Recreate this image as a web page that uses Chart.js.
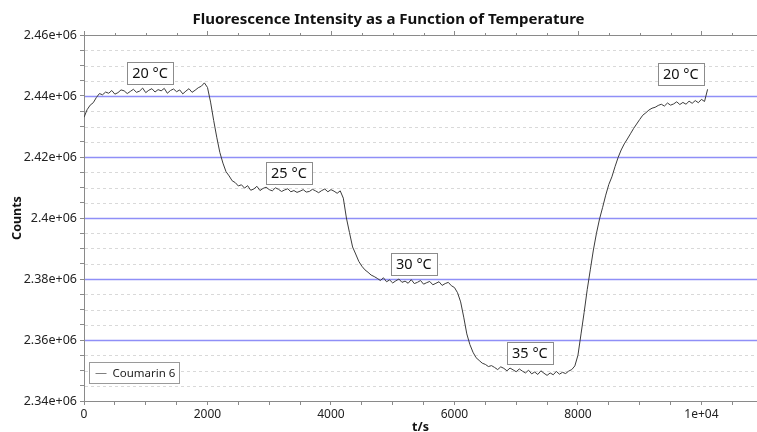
<!DOCTYPE html>
<html>
<head>
<meta charset="utf-8">
<script src="https://cdn.jsdelivr.net/npm/chart.js@4/dist/chart.umd.min.js"></script>
<style>
  html, body { margin: 0; padding: 0; background: #ffffff; }
  #wrap { width: 757px; height: 432px; position: relative; }
</style>
</head>
<body>
<div id="wrap"><canvas id="c" width="757" height="432"></canvas></div>
<script>
// ---- data ----
const seriesName = 'Coumarin 6';
const chartTitle = 'Fluorescence Intensity as a Function of Temperature';
const xTitle = 't/s';
const yTitle = 'Counts';

const times = [
  0, 50, 100, 150, 200, 250, 300, 350, 400, 450,
  500, 550, 600, 650, 700, 750, 800, 850, 900, 950,
  1000, 1050, 1100, 1150, 1200, 1250, 1300, 1350, 1400, 1450,
  1500, 1550, 1600, 1650, 1700, 1750, 1800, 1850, 1900, 1950,
  2000, 2050, 2100, 2150, 2200, 2250, 2300, 2350, 2400, 2450,
  2500, 2550, 2600, 2650, 2700, 2750, 2800, 2850, 2900, 2950,
  3000, 3050, 3100, 3150, 3200, 3250, 3300, 3350, 3400, 3450,
  3500, 3550, 3600, 3650, 3700, 3750, 3800, 3850, 3900, 3950,
  4000, 4050, 4100, 4150, 4200, 4250, 4300, 4350, 4400, 4450,
  4500, 4550, 4600, 4650, 4700, 4750, 4800, 4850, 4900, 4950,
  5000, 5050, 5100, 5150, 5200, 5250, 5300, 5350, 5400, 5450,
  5500, 5550, 5600, 5650, 5700, 5750, 5800, 5850, 5900, 5950,
  6000, 6050, 6100, 6150, 6200, 6250, 6300, 6350, 6400, 6450,
  6500, 6550, 6600, 6650, 6700, 6750, 6800, 6850, 6900, 6950,
  7000, 7050, 7100, 7150, 7200, 7250, 7300, 7350, 7400, 7450,
  7500, 7550, 7600, 7650, 7700, 7750, 7800, 7850, 7900, 7950,
  8000, 8050, 8100, 8150, 8200, 8250, 8300, 8350, 8400, 8450,
  8500, 8550, 8600, 8650, 8700, 8750, 8800, 8850, 8900, 8950,
  9000, 9050, 9100, 9150, 9200, 9250, 9300, 9350, 9400, 9450,
  9500, 9550, 9600, 9650, 9700, 9750, 9800, 9850, 9900, 9950,
  10000, 10050, 10100
];

const counts = [
  2433000, 2435500, 2437000, 2437800, 2439500, 2440800, 2440400, 2441300, 2440900, 2441800,
  2440600, 2441100, 2442000, 2441700, 2440800, 2441500, 2442200, 2441200, 2441600, 2442600,
  2441100, 2441900, 2442400, 2441300, 2442100, 2441700, 2442500, 2440900, 2441800, 2442300,
  2441400, 2442000, 2440700, 2441600, 2442400, 2441200, 2441900, 2442700, 2443200, 2444300,
  2442800, 2438000, 2432000, 2426500, 2421500, 2418000, 2415200, 2413800, 2412200, 2411600,
  2410500, 2410900, 2409800, 2410600, 2409100, 2409500, 2410400, 2409000, 2409700, 2410100,
  2409300, 2408900, 2409900, 2409400, 2408700, 2409200, 2409600, 2408600, 2409000, 2408400,
  2408800, 2409300, 2408500, 2408700, 2409400, 2408900, 2408300, 2409000, 2409500, 2408600,
  2409300, 2408800, 2408100, 2408900, 2406500, 2400000, 2395200, 2390500, 2388200, 2385800,
  2384200, 2383000, 2382200, 2381300, 2380800, 2380200, 2379500, 2380400, 2379100, 2379700,
  2378700, 2379400, 2380000, 2378900, 2379300, 2378600, 2379800, 2378500, 2378900, 2379500,
  2378300, 2378800, 2379200, 2378100, 2378600, 2379100, 2377900, 2378500, 2378900, 2377800,
  2377200, 2375500, 2372500, 2367500, 2362000, 2358500, 2356000, 2354200, 2353300, 2352400,
  2352000, 2351300, 2351600, 2351000, 2350300, 2351200, 2350700, 2349900, 2350800, 2350200,
  2349600, 2350500, 2349800, 2349200, 2350100, 2348900, 2349500, 2348700, 2349900, 2349100,
  2348400, 2349200, 2348600, 2349700, 2348800, 2349400, 2349000, 2349800, 2350300, 2351500,
  2355000, 2362000, 2369000, 2376500, 2383000, 2389500, 2395000, 2399700, 2403500, 2407500,
  2411000, 2413500, 2416800, 2419800, 2422300, 2424300, 2425900, 2427600, 2429300, 2430800,
  2432300, 2433700, 2434500, 2435400, 2436000, 2436300, 2436900, 2437300, 2436700, 2437700,
  2437000, 2437400, 2438100, 2437200, 2437900, 2437300, 2438300, 2437600, 2438500, 2437800,
  2438900, 2438200, 2442200
];

// temperature labels and where they sit (data coordinates)
const noteTexts  = ['20 \u00B0C', '25 \u00B0C', '30 \u00B0C', '35 \u00B0C', '20 \u00B0C'];
const noteTimes  = [1069, 3319, 5343, 7222, 9666];
const noteCounts = [2447500, 2414800, 2384900, 2355700, 2447200];

// tick labels
const xTickValues = [0, 2000, 4000, 6000, 8000, 10000];
const xTickLabels = ['0', '2000', '4000', '6000', '8000', '1e+04'];
const yTickValues = [2340000, 2360000, 2380000, 2400000, 2420000, 2440000, 2460000];
const yTickLabels = ['2.34e+06', '2.36e+06', '2.38e+06', '2.4e+06', '2.42e+06', '2.44e+06', '2.46e+06'];
const xMinorStep = 500;
const yMinorStep = 5000;

// ---- drawing ----
const FONT = "'Noto Sans', 'DejaVu Sans', sans-serif";
const AXIS_COLOR = '#8a8a8a';

const points = times.map((t, i) => ({ x: t, y: counts[i] }));

function stepTicks(scale, step) {
  const out = [];
  for (let v = Math.ceil(scale.min / step) * step; v <= scale.max + 1e-6; v += step) out.push({ value: v });
  scale.ticks = out;
}
function labelFor(values, labels, v) {
  const i = values.findIndex(t => Math.abs(t - v) < 1e-3);
  return i >= 0 ? labels[i] : '';
}

const decorPlugin = {
  id: 'decor',
  beforeDatasetsDraw(chart) {
    const { ctx, chartArea: a, scales } = chart;
    const ys = scales.y;
    ctx.save();
    ys.ticks.forEach(tk => {
      const py = Math.round(ys.getPixelForValue(tk.value));
      if (py <= a.top + 1 || py >= a.bottom - 1) return;
      if (labelFor(yTickValues, yTickLabels, tk.value)) {
        ctx.strokeStyle = 'rgba(115,115,245,0.8)';
        ctx.lineWidth = 1.4;
        ctx.setLineDash([]);
      } else {
        ctx.strokeStyle = '#d9d9d9';
        ctx.lineWidth = 1;
        ctx.setLineDash([3, 3]);
      }
      ctx.beginPath();
      ctx.moveTo(a.left + 1, py + 0.5);
      ctx.lineTo(a.right, py + 0.5);
      ctx.stroke();
    });
    ctx.restore();
  },
  afterDraw(chart) {
    const { ctx, chartArea: a, scales } = chart;
    const xs = scales.x, ys = scales.y;
    ctx.save();

    // top border with outward ticks
    ctx.strokeStyle = AXIS_COLOR;
    ctx.lineWidth = 1;
    ctx.setLineDash([]);
    ctx.beginPath();
    ctx.moveTo(a.left, a.top + 0.5);
    ctx.lineTo(a.right, a.top + 0.5);
    ctx.stroke();
    xs.ticks.forEach(tk => {
      const px = Math.round(xs.getPixelForValue(tk.value)) + 0.5;
      const len = labelFor(xTickValues, xTickLabels, tk.value) ? 4 : 2;
      ctx.beginPath();
      ctx.moveTo(px, a.top);
      ctx.lineTo(px, a.top - len);
      ctx.stroke();
    });

    // temperature labels
    ctx.font = '14.5px ' + FONT;
    ctx.textAlign = 'center';
    ctx.textBaseline = 'middle';
    noteTexts.forEach((txt, i) => {
      const cx = xs.getPixelForValue(noteTimes[i]);
      const cy = ys.getPixelForValue(noteCounts[i]);
      const w = Math.round(ctx.measureText(txt).width + 10);
      const h = 22;
      const x0 = Math.round(cx - w / 2) + 0.5, y0 = Math.round(cy - h / 2) + 0.5;
      ctx.fillStyle = '#ffffff';
      ctx.fillRect(x0, y0, w, h);
      ctx.strokeStyle = '#8c8c8c';
      ctx.strokeRect(x0, y0, w, h);
      ctx.fillStyle = '#111111';
      ctx.fillText(txt, cx, cy + 1);
    });

    // legend box inside the plot, lower left
    const lx = a.left + 5.5, ly = a.bottom - 38.5, lw = 90, lh = 21;
    ctx.fillStyle = '#ffffff';
    ctx.fillRect(lx, ly, lw, lh);
    ctx.strokeStyle = '#9a9a9a';
    ctx.strokeRect(lx, ly, lw, lh);
    ctx.strokeStyle = '#808080';
    ctx.beginPath();
    ctx.moveTo(lx + 6, ly + 11);
    ctx.lineTo(lx + 17, ly + 11);
    ctx.stroke();
    ctx.fillStyle = '#222222';
    ctx.font = '11.5px ' + FONT;
    ctx.textAlign = 'left';
    ctx.fillText(chart.data.datasets[0].label, lx + 23, ly + 11);

    // title
    ctx.font = 'bold 15px ' + FONT;
    ctx.textAlign = 'center';
    ctx.fillStyle = '#111111';
    ctx.fillText(chartTitle, 388.5, 20);
    ctx.restore();
  }
};

new Chart(document.getElementById('c'), {
  type: 'line',
  data: {
    datasets: [{
      label: seriesName,
      data: points,
      borderColor: '#3c3c3c',
      borderWidth: 1,
      pointRadius: 0,
      tension: 0,
      fill: false
    }]
  },
  options: {
    responsive: false,
    animation: false,
    events: [],
    layout: { padding: { top: 35, right: 0, left: 0, bottom: 0 } },
    plugins: {
      legend: { display: false },
      title: { display: false },
      tooltip: { enabled: false }
    },
    scales: {
      x: {
        type: 'linear',
        position: 'bottom',
        min: 0,
        max: 10900,
        afterBuildTicks(s) { stepTicks(s, xMinorStep); },
        afterFit(s) { s.height = 31; },
        border: { display: true, color: AXIS_COLOR, width: 1 },
        grid: { drawOnChartArea: false, drawTicks: true, tickLength: 4, color: AXIS_COLOR },
        ticks: {
          autoSkip: false,
          maxRotation: 0,
          padding: 2,
          color: '#222222',
          font: { family: FONT, size: 12 },
          callback(v) { return labelFor(xTickValues, xTickLabels, v); }
        },
        title: {
          display: true,
          text: xTitle,
          color: '#111111',
          font: { family: FONT, size: 12.5, weight: 'bold' },
          padding: { top: 0, bottom: -2.5 }
        }
      },
      y: {
        type: 'linear',
        position: 'left',
        min: 2340000,
        max: 2460000,
        afterBuildTicks(s) { stepTicks(s, yMinorStep); },
        afterFit(s) { s.width = 84; },
        border: { display: true, color: AXIS_COLOR, width: 1 },
        grid: { drawOnChartArea: false, drawTicks: true, tickLength: 4, color: AXIS_COLOR },
        ticks: {
          autoSkip: false,
          padding: 3,
          color: '#222222',
          font: { family: FONT, size: 12.5 },
          callback(v) { return labelFor(yTickValues, yTickLabels, v); }
        },
        title: {
          display: true,
          text: yTitle,
          color: '#111111',
          font: { family: FONT, size: 12.5, weight: 'bold' },
          padding: { top: 10, bottom: 0 }
        }
      }
    }
  },
  plugins: [decorPlugin]
});
</script>
</body>
</html>
